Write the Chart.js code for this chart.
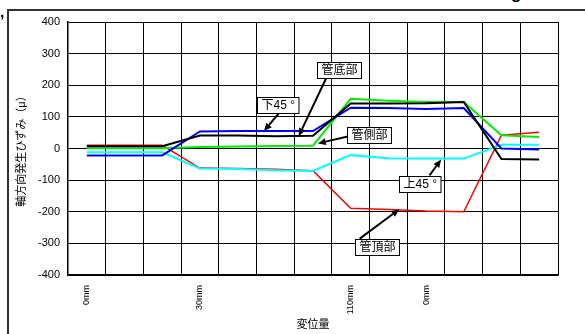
<!DOCTYPE html>
<html>
<head>
<meta charset="utf-8">
<script src="https://cdn.jsdelivr.net/npm/chart.js@4.4.1/dist/chart.umd.min.js"></script>
<style>
  html, body { margin: 0; padding: 0; background: #fff; overflow: hidden; }
  #wrap { position: relative; width: 585px; height: 334px; overflow: hidden; }
  #frame { position: absolute; left: 7px; top: 9px; width: 700px; height: 500px;
           border: 2px solid #333; box-sizing: border-box; }
  #c { position: absolute; left: 0; top: 0; }
  .frag { position: absolute; font-family: 'Liberation Sans', Arial, sans-serif; font-weight: bold; color: #000; }
</style>
</head>
<body>
<div id="wrap">
  <div id="frame"></div>
  <span class="frag" style="left:0px; top:3px; font-size:15px;">,</span>
  <span class="frag" style="left:511px; top:-16px; font-size:17px;">g</span>
  <canvas id="c" width="585" height="334"></canvas>
</div>
<script>
// Displacement steps along the x axis (only some carry a label)
const categories = ['0mm', '', '', '30mm', '', '', '', '110mm', '', '0mm', '', '', ''];

// Axial strain (μ) measured at each gauge position
const topStrain     = [10, 10, 10, -62, -63, -66, -70, -189, -193, -198, -200, 42, 51];   // 管頂部
const sideStrain    = [1, 1, 1, 5, 6, 8, 9, 157, 151, 147, 147, 42, 36];                  // 管側部
const upper45Strain = [-12, -12, -12, -63, -65, -69, -71, -21, -31, -32, -32, 12, 12];    // 上45°
const lower45Strain = [-22, -22, -22, 54, 55, 55, 55, 129, 128, 125, 128, 0, -3];         // 下45°
const bottomStrain  = [7, 7, 7, 41, 41, 39, 40, 142, 142, 143, 147, -33, -35];            // 管底部

const yTicks = [-400, -300, -200, -100, 0, 100, 200, 300, 400];

const FONT = "'Liberation Sans', Arial, 'Noto Sans CJK JP', sans-serif";

// Callout boxes with arrows, placed in axis units (category index, strain)
const callouts = [
  { text: '下45 °', box: [5.07, 139],  tail: [5.12, 115],  tip: [4.70, 55] },
  { text: '管底部', box: [6.70, 247],  tail: [6.35, 222],  tip: [5.62, 39] },
  { text: '管側部', box: [7.48, 44],   tail: [6.95, 39],   tip: [6.13, 16] },
  { text: '上45 °', box: [8.82, -111], tail: [9.09, -85],  tip: [9.40, -35] },
  { text: '管頂部', box: [7.70, -311], tail: [7.24, -285], tip: [8.29, -192] }
];

const calloutPlugin = {
  id: 'callouts',
  afterDatasetsDraw(chart) {
    const ctx = chart.ctx;
    const xs = chart.scales.x, ys = chart.scales.y;
    const px = p => [xs.getPixelForValue(p[0]), ys.getPixelForValue(p[1])];
    ctx.save();
    callouts.forEach(c => {
      const [tx, ty] = px(c.tail);
      const [hx, hy] = px(c.tip);
      const ang = Math.atan2(hy - ty, hx - tx);
      const headLen = 8, headW = 3.5;
      const bx = hx - headLen * Math.cos(ang), by = hy - headLen * Math.sin(ang);
      ctx.strokeStyle = '#000';
      ctx.lineWidth = 2;
      ctx.beginPath();
      ctx.moveTo(tx, ty);
      ctx.lineTo(bx, by);
      ctx.stroke();
      ctx.fillStyle = '#000';
      ctx.beginPath();
      ctx.moveTo(hx, hy);
      ctx.lineTo(bx + headW * Math.sin(ang), by - headW * Math.cos(ang));
      ctx.lineTo(bx - headW * Math.sin(ang), by + headW * Math.cos(ang));
      ctx.closePath();
      ctx.fill();
    });
    callouts.forEach(c => {
      const [cx, cy] = px(c.box);
      ctx.font = '12px ' + FONT;
      const w = ctx.measureText(c.text).width + 8;
      const h = 16;
      const l = Math.round(cx - w / 2) + 0.5, t = Math.round(cy - h / 2) + 0.5;
      ctx.fillStyle = '#fff';
      ctx.fillRect(l, t, w, h);
      ctx.strokeStyle = '#000';
      ctx.lineWidth = 1;
      ctx.strokeRect(l, t, w, h);
      ctx.fillStyle = '#000';
      ctx.textAlign = 'center';
      ctx.textBaseline = 'middle';
      ctx.fillText(c.text, l + w / 2, t + h / 2 + 0.5);
    });
    ctx.restore();
  }
};

const line = (label, data, color, width) => ({
  label, data, borderColor: color, backgroundColor: color,
  borderWidth: width, pointRadius: 0, tension: 0, fill: false
});

new Chart(document.getElementById('c'), {
  type: 'line',
  data: {
    labels: categories,
    datasets: [
      line('管底部', bottomStrain, '#000000', 2),
      line('下45°', lower45Strain, '#0000ff', 2),
      line('管側部', sideStrain, '#00ee00', 2),
      line('上45°', upper45Strain, '#00ffff', 2),
      line('管頂部', topStrain, '#ff0000', 1.5)
    ]
  },
  options: {
    responsive: false,
    animation: false,
    devicePixelRatio: 1,
    layout: { padding: { left: 0, right: 27, top: 22, bottom: 0 } },
    plugins: { legend: { display: false }, tooltip: { enabled: false } },
    scales: {
      x: {
        type: 'category',
        offset: true,
        grid: { offset: true, color: '#000', lineWidth: 1, drawTicks: false },
        border: { color: '#000', width: 1.5 },
        ticks: {
          autoSkip: false, maxRotation: 90, minRotation: 90, padding: 10,
          color: '#000', font: { family: FONT, size: 9 }
        },
        title: {
          display: true, text: '変位量', color: '#000',
          font: { family: FONT, size: 11 }, padding: { top: 0, bottom: 2 }
        },
        afterFit(scale) { scale.height = 59; }
      },
      y: {
        min: -400, max: 400,
        afterBuildTicks(scale) { scale.ticks = yTicks.map(v => ({ value: v })); },
        grid: { color: '#000', lineWidth: 1, drawTicks: false },
        border: { color: '#000', width: 1.5 },
        ticks: { padding: 8, color: '#000', font: { family: FONT, size: 11 } },
        title: {
          display: true, text: '軸方向発生ひずみ（μ）', color: '#000',
          font: { family: FONT, size: 11 }, padding: { top: 15, bottom: 0 }
        },
        afterFit(scale) { scale.width = 68; }
      }
    }
  },
  plugins: [calloutPlugin]
});
</script>
</body>
</html>
